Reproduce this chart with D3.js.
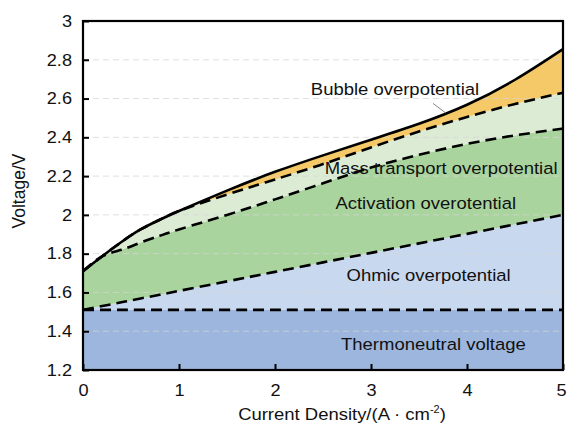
<!DOCTYPE html>
<html><head><meta charset="utf-8">
<script src="https://cdn.jsdelivr.net/npm/d3@7"></script>
<style>body{margin:0;background:#fff;} svg{display:block;} text{font-family:"Liberation Sans",Arial,sans-serif;fill:#111;}</style>
</head><body>
<svg id="c" width="567" height="423"></svg>
<script>
// Data
const currentDensity = [0, 0.2, 0.4, 0.6, 0.8, 1, 1.5, 2, 2.5, 3, 3.5, 4, 4.5, 5];
const thermoneutral  = [1.51,1.51,1.51,1.51,1.51,1.51,1.51,1.51,1.51,1.51,1.51,1.51,1.51,1.51];
const ohmic          = [1.51,1.53,1.549,1.569,1.588,1.608,1.657,1.706,1.755,1.804,1.853,1.902,1.951,2.0];
const activation     = [1.71,1.786,1.82,1.857,1.892,1.925,2.0,2.08,2.163,2.244,2.31,2.366,2.41,2.445];
const massTransport  = [1.71,1.787,1.86,1.925,1.975,2.02,2.105,2.183,2.262,2.348,2.43,2.505,2.572,2.63];
const total          = [1.71,1.787,1.86,1.925,1.975,2.02,2.125,2.222,2.307,2.388,2.47,2.568,2.697,2.855];
const xTicks = [0,1,2,3,4,5];
const yTicks = [1.2,1.4,1.6,1.8,2,2.2,2.4,2.6,2.8,3];
const regionNames = ["Thermoneutral voltage","Ohmic overpotential","Activation overotential","Mass transport overpotential","Bubble overpotential"];
const regionColors = ["#9db6dd","#c8d8ef","#aad49d","#dcecd4","#f5c868"];
const labelPos = [[3.65,1.305],[3.6,1.66],[3.57,2.03],[3.73,2.21],[3.25,2.62]]; // [x, V] anchor of each label (middle)
const arrowPts = [[3.646,2.575],[3.78,2.525]];

const svg = d3.select("#c");
const x = d3.scaleLinear().domain([0,5]).range([83,563]);
const y = d3.scaleLinear().domain([1.2,3]).range([370,21]);

const base = currentDensity.map(()=>1.2);
const bands = [[base, thermoneutral],[thermoneutral, ohmic],[ohmic, activation],[activation, massTransport],[massTransport, total]];
const crv = d3.curveNatural;
const area = d3.area().x(d=>x(d[0])).y0(d=>y(d[1])).y1(d=>y(d[2])).curve(crv);
bands.forEach((b,i)=>{
  const pts = currentDensity.map((c,k)=>[c,b[0][k],b[1][k]]);
  svg.append("path").attr("d",area(pts)).attr("fill",regionColors[i]);
});

// grid
svg.append("g").selectAll("line").data(yTicks.filter(v=>v>1.2&&v<3)).join("line")
  .attr("x1",x(0)).attr("x2",x(5)).attr("y1",d=>y(d)).attr("y2",d=>y(d))
  .attr("stroke","#d4d4d4").attr("stroke-opacity",0.75).attr("stroke-width",1).attr("stroke-dasharray","6,4");

const line = d3.line().x(d=>x(d[0])).y(d=>y(d[1])).curve(crv);
[thermoneutral, ohmic, activation, massTransport].forEach(s=>{
  svg.append("path").attr("d",line(currentDensity.map((c,k)=>[c,s[k]])))
    .attr("fill","none").attr("stroke","#000").attr("stroke-width",2.6).attr("stroke-dasharray","11,6");
});
svg.append("path").attr("d",line(currentDensity.map((c,k)=>[c,total[k]])))
  .attr("fill","none").attr("stroke","#000").attr("stroke-width",2.6);

// arrow line
svg.append("line").attr("x1",x(arrowPts[0][0])).attr("y1",y(arrowPts[0][1]))
  .attr("x2",x(arrowPts[1][0])).attr("y2",y(arrowPts[1][1])).attr("stroke","#666").attr("stroke-width",0.8);

// frame
svg.append("rect").attr("x",x(0)).attr("y",y(3)).attr("width",x(5)-x(0)).attr("height",y(1.2)-y(3))
  .attr("fill","none").attr("stroke","#000").attr("stroke-width",2.2);

// axes (inward ticks)
const yAxis = d3.axisLeft(y).tickValues(yTicks).tickSize(-6).tickPadding(11).tickFormat(d3.format("~g"));
const gy = svg.append("g").attr("transform",`translate(${x(0)},0)`).call(yAxis);
const xAxis = d3.axisBottom(x).tickValues(xTicks).tickSize(-6).tickPadding(14).tickFormat(d3.format("~g"));
const gx = svg.append("g").attr("transform",`translate(0,${y(1.2)})`).call(xAxis);
[gx,gy].forEach(g=>{
  g.select(".domain").remove();
  g.selectAll(".tick line").attr("stroke","#000").attr("stroke-width",2);
  g.selectAll(".tick text").attr("font-size",16.5).attr("fill","#111")
   .style("font-family","Liberation Sans, Arial, sans-serif");
});
gy.selectAll(".tick text").each(function(){
  const t=d3.select(this); const xx=+t.attr("x"); t.attr("x",null);
  t.attr("transform",`translate(${xx},0) scale(1.1,1)`);
});
gx.selectAll(".tick text").attr("transform",(d)=> d===5 ? "translate(-2,0) scale(1.1,1)" : "scale(1.1,1)");

// region labels
regionNames.forEach((n,i)=>{
  svg.append("text").attr("transform",`translate(${x(labelPos[i][0])},${y(labelPos[i][1])}) scale(1.1,1)`)
    .attr("text-anchor","middle").attr("font-size",16.8).text(n);
});

// axis titles
const xt = svg.append("text").attr("transform",`translate(342,420) scale(1.1,1)`).attr("text-anchor","middle").attr("font-size",16.8);
xt.append("tspan").text("Current Density/(A · cm");
xt.append("tspan").attr("font-size",10).attr("dy",-7).text("-2");
xt.append("tspan").attr("dy",7).text(")");
svg.append("text").attr("transform","translate(25,191) rotate(-90)").attr("text-anchor","middle").attr("font-size",17.5).text("Voltage/V");
</script>
</body></html>
